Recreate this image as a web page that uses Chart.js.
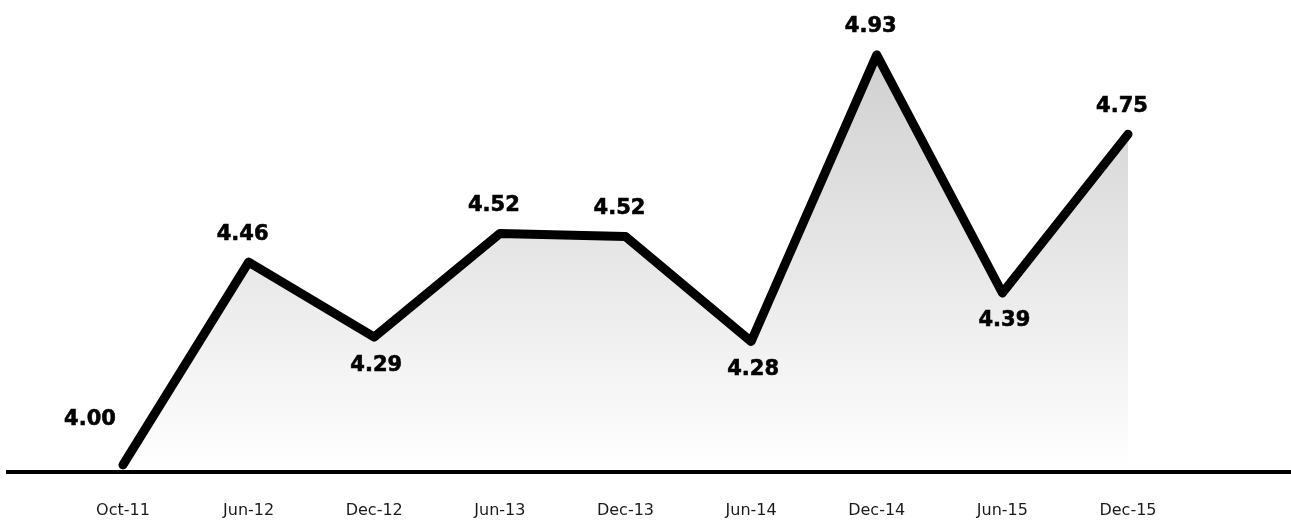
<!DOCTYPE html>
<html>
<head>
<meta charset="utf-8">
<script src="https://cdn.jsdelivr.net/npm/chart.js@4"></script>
<style>
  html, body { margin: 0; padding: 0; background: #ffffff; }
  #wrap { width: 1291px; height: 521px; position: relative; }
</style>
</head>
<body>
<div id="wrap"><canvas id="c" width="1291" height="521"></canvas></div>
<script>
// ---- data ----
const categories = ["Oct-11", "Jun-12", "Dec-12", "Jun-13", "Dec-13", "Jun-14", "Dec-14", "Jun-15", "Dec-15"];
const values = [4.00, 4.46, 4.29, 4.525, 4.518, 4.28, 4.93, 4.39, 4.75];
const valueLabels = ["4.00", "4.46", "4.29", "4.52", "4.52", "4.28", "4.93", "4.39", "4.75"];
const labelPlacement = ["left", "above", "below", "above", "above", "below", "above", "below", "above"];

const points = values.map((v, i) => ({ x: i, y: v }));

const labelPlugin = {
  id: 'valueLabels',
  afterDatasetsDraw(chart) {
    const ctx = chart.ctx;
    const meta = chart.getDatasetMeta(0);
    ctx.save();
    ctx.font = 'bold 21px "DejaVu Sans"';
    ctx.fillStyle = '#000000';
    ctx.strokeStyle = '#000000';
    ctx.lineWidth = 0.6;
    ctx.textAlign = 'center';
    ctx.textBaseline = 'middle';
    meta.data.forEach((pt, i) => {
      const p = labelPlacement[i];
      let x = pt.x, y = pt.y;
      if (p === 'above') { y -= 28; x -= 6; }
      else if (p === 'below') { y += 28; x += 2; }
      else if (p === 'left') { x -= 33; y -= 45; }
      ctx.fillText(valueLabels[i], x, y);
      ctx.strokeText(valueLabels[i], x, y);
    });
    ctx.restore();
  }
};

const ctx = document.getElementById('c').getContext('2d');
new Chart(ctx, {
  type: 'line',
  data: {
    datasets: [{
      data: points,
      borderColor: '#000000',
      borderWidth: 9,
      borderJoinStyle: 'round',
      borderCapStyle: 'round',
      pointRadius: 0,
      tension: 0,
      fill: { value: 3.9935 },
      backgroundColor: (c) => {
        const area = c.chart.chartArea;
        if (!area) return 'rgba(220,220,220,0.5)';
        const g = c.chart.ctx.createLinearGradient(0, area.top + 30, 0, area.bottom);
        g.addColorStop(0, 'rgba(208,208,208,1)');
        g.addColorStop(1, 'rgba(255,255,255,1)');
        return g;
      }
    }]
  },
  options: {
    responsive: false,
    animation: false,
    layout: { padding: { left: 8, right: 0, top: 24, bottom: 2 } },
    plugins: { legend: { display: false }, tooltip: { enabled: false } },
    scales: {
      x: {
        type: 'linear',
        min: -0.9154,
        max: 9.2975,
        grid: { display: false, drawTicks: false },
        border: { display: true, color: '#000000', width: 4 },
        afterFit: (scale) => { scale.height = 47; },
        ticks: {
          stepSize: 1,
          autoSkip: false,
          includeBounds: false,
          maxRotation: 0,
          padding: 29,
          color: '#1a1a1a',
          font: { family: '"DejaVu Sans"', size: 16 },
          callback: (v) => (Number.isInteger(v) && v >= 0 && v < categories.length) ? categories[v] : ''
        }
      },
      y: {
        display: false,
        min: 3.984,
        max: 5.0
      }
    }
  },
  plugins: [labelPlugin]
});
</script>
</body>
</html>
